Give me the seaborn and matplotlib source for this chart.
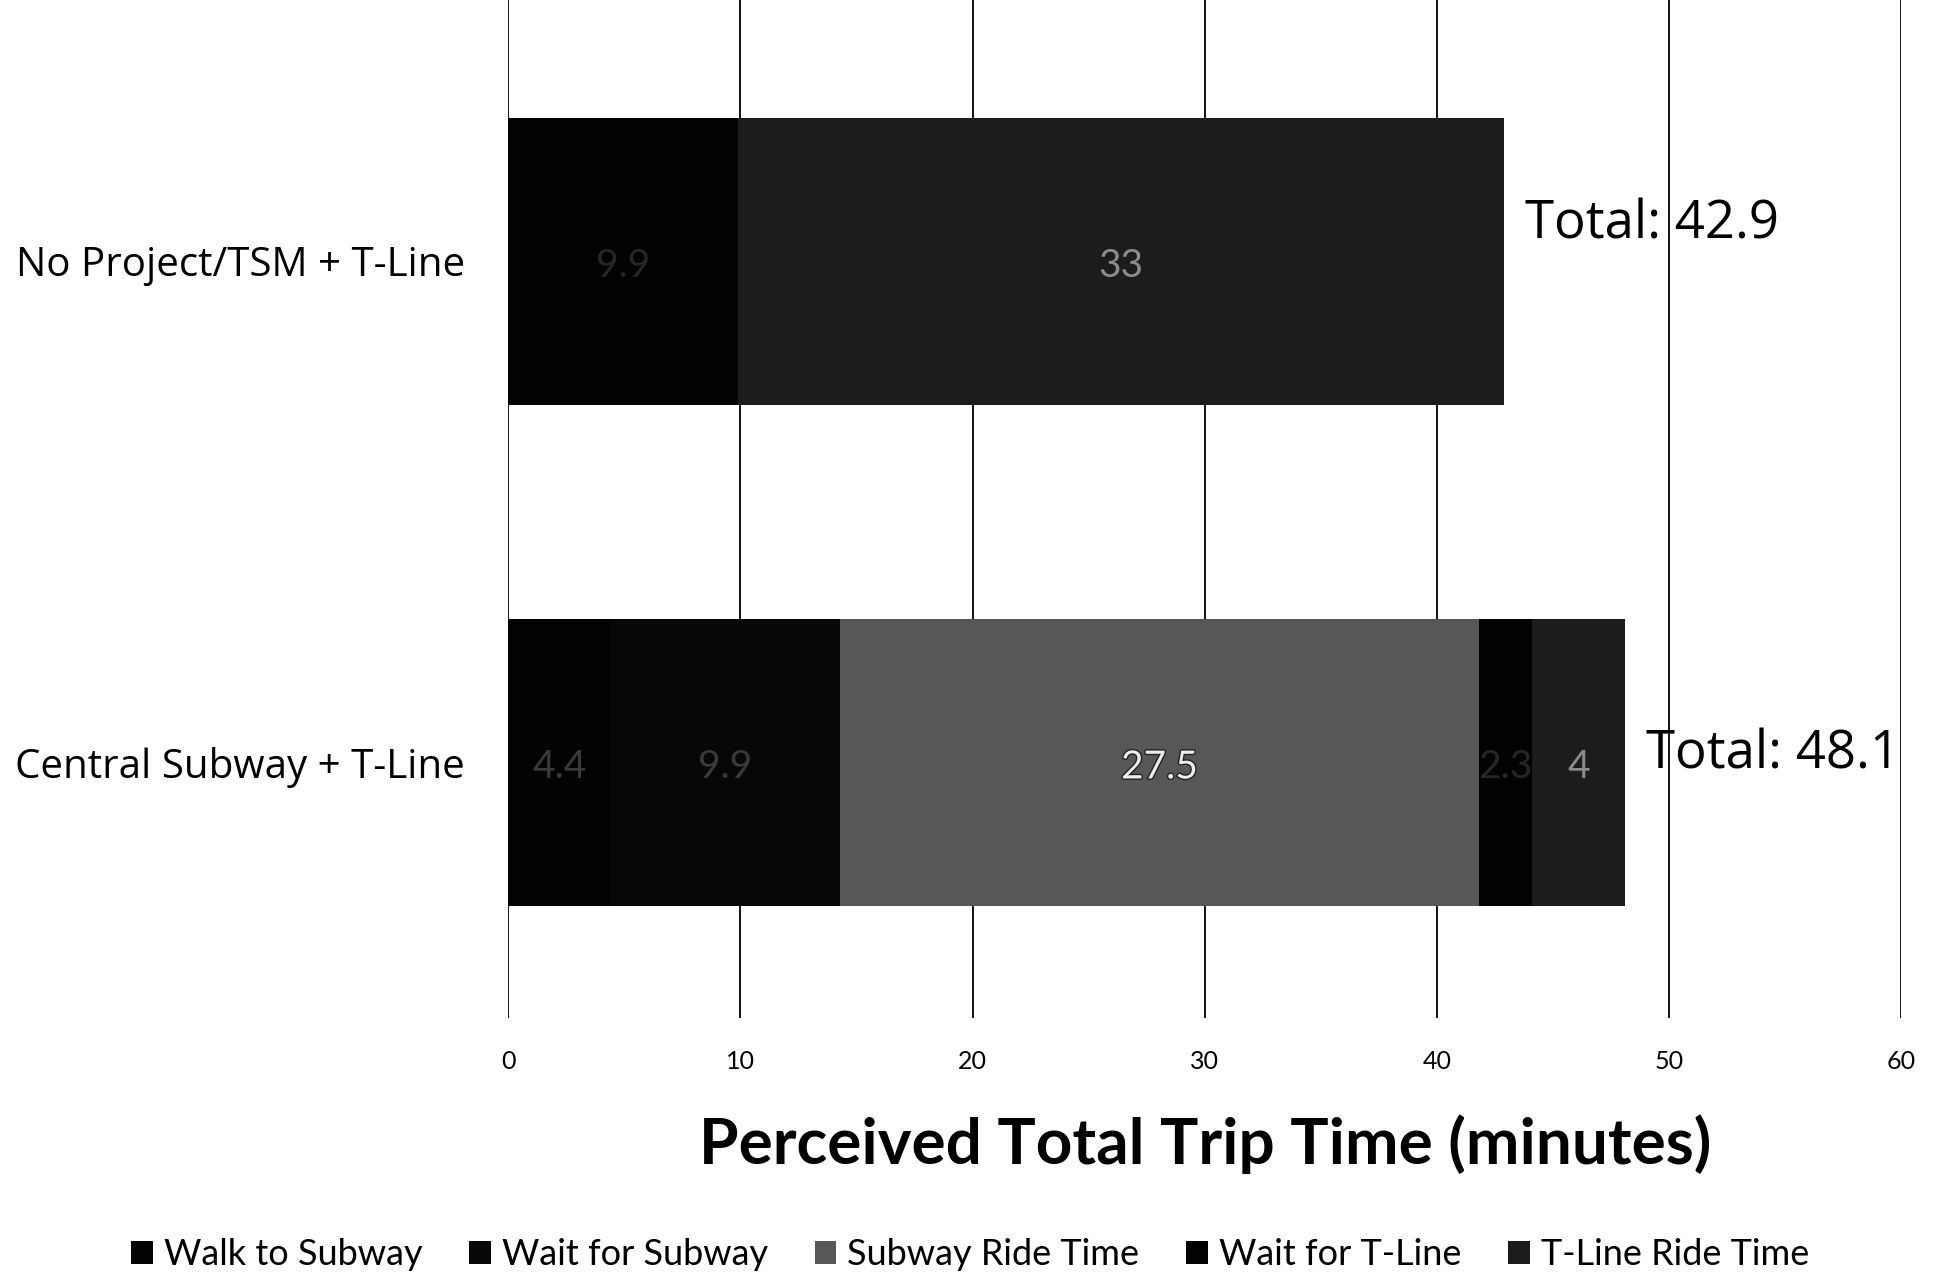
import numpy as np
import pandas as pd
import matplotlib
matplotlib.use('Agg')
import matplotlib.pyplot as plt
import matplotlib.patheffects as pe
from matplotlib.patches import Patch
import seaborn as sns

# Data
categories = ['No Project/TSM + T-Line', 'Central Subway + T-Line']
series = ['Walk to Subway', 'Wait for Subway', 'Subway Ride Time', 'Wait for T-Line', 'T-Line Ride Time']
walk_to_subway = [0, 4.4]
wait_for_subway = [0, 9.9]
subway_ride = [0, 27.5]
wait_for_tline = [9.9, 2.3]
tline_ride = [33, 4]
totals = [42.9, 48.1]
xticks = [0, 10, 20, 30, 40, 50, 60]

colors = ['#030303', '#070707', '#575757', '#020202', '#1c1c1c']
label_colors = ['#3a3a3a', '#3a3a3a', '#ececec', '#262626', '#8c8c8c']

values = [walk_to_subway, wait_for_subway, subway_ride, wait_for_tline, tline_ride]
df = pd.DataFrame(dict(zip(series, values)), index=categories)
cum = df.cumsum(axis=1)

sns.set_theme(style='white')
plt.rcParams['font.family'] = ['Lato', 'DejaVu Sans']
plt.rcParams['text.color'] = 'black'
plt.rcParams['axes.labelcolor'] = 'black'
plt.rcParams['xtick.color'] = 'black'
plt.rcParams['ytick.color'] = 'black'
WIDE = ['Open Sans', 'DejaVu Sans']

fig = plt.figure(figsize=(19.4, 12.72), dpi=100)
ax = fig.add_axes([0.262, 0.200, 0.718, 0.800])

# stacked bars: draw cumulative sums from the last series back to the first
for name, color in reversed(list(zip(series, colors))):
    sns.barplot(x=cum[name].values, y=categories, orient='h', color=color,
                width=0.573, linewidth=0, saturation=1, ax=ax)

# segment labels
for i, cat in enumerate(categories):
    for name, lc in zip(series, label_colors):
        v = df.loc[cat, name]
        if v <= 0:
            continue
        center = cum.loc[cat, name] - v / 2
        t = ax.text(center, i + 0.01, f'{v:g}', ha='center', va='center', fontsize=28, color=lc)
        if name == 'Subway Ride Time':
            t.set_path_effects([pe.withStroke(linewidth=2, foreground='#222222')])
    ax.text(totals[i] + 0.9, i - (0.072 if i == 0 else 0.015), f'Total: {totals[i]}',
            ha='left', va='center', fontsize=38, color='black', family=WIDE)

ax.set_xlim(0, 60)
ax.set_ylim(1.509, -0.521)
ax.set_xticks(xticks)
ax.set_xticklabels([str(t) for t in xticks], fontsize=18)
ax.tick_params(axis='x', length=0, pad=23)
ax.set_yticks(range(len(categories)))
ax.set_yticklabels(categories, fontsize=29, family=WIDE)
ax.tick_params(axis='y', length=0, pad=31)
for t in xticks:
    ax.axvline(t, color='black', linewidth=1.3, zorder=0)
for s in ax.spines.values():
    s.set_visible(False)
ax.grid(False)
ax.set_ylabel('')
ax.set_xlabel('Perceived Total Trip Time (minutes)', fontsize=46, fontweight='bold', labelpad=30)

handles = [Patch(facecolor=c, edgecolor='none', label=s) for s, c in zip(series, colors)]
fig.legend(handles=handles, loc='lower center', bbox_to_anchor=(0.5, -0.025), ncol=5,
           frameon=False, fontsize=26, handlelength=0.6, handleheight=0.6,
           handletextpad=0.3, columnspacing=1.3)

fig.savefig('out.png', dpi=100)
